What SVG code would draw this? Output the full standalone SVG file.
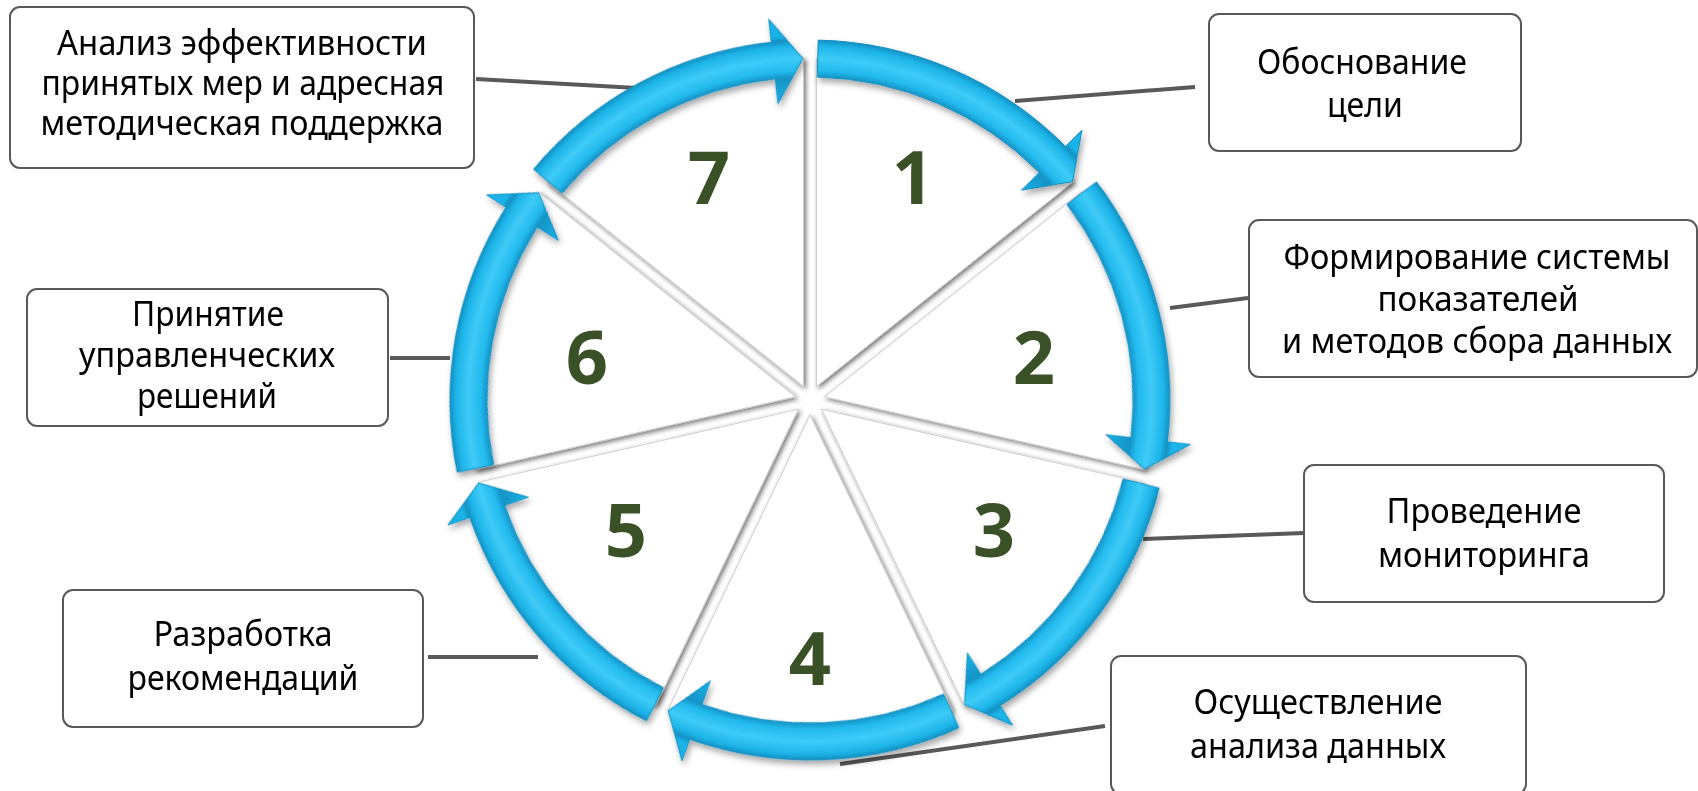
<svg xmlns="http://www.w3.org/2000/svg" xmlns:xlink="http://www.w3.org/1999/xlink" width="1698" height="791" viewBox="0 0 1698 791">
<style>
.box{fill:#fff;stroke:#595959;stroke-width:2}
.lbl{font-family:"Noto Sans","DejaVu Sans",sans-serif;font-size:34px;fill:#000;text-anchor:middle}
.num{font-family:"Noto Sans","DejaVu Sans",sans-serif;font-size:74px;font-weight:bold;fill:#3A5128;text-anchor:middle}
.conn{stroke:#595959;stroke-width:4;fill:none}
.wedge{fill:#fff;stroke:#cfcfcf;stroke-width:1}
.arr{fill:url(#tube);stroke:#138fc2;stroke-width:1}
</style>
<defs>
<radialGradient id="tube" gradientUnits="userSpaceOnUse" cx="0" cy="0" r="384">
<stop offset="0" stop-color="#1ab4e8"/>
<stop offset="0.776" stop-color="#1ab4e8"/>
<stop offset="0.841" stop-color="#1593c6"/>
<stop offset="0.858" stop-color="#22baee"/>
<stop offset="0.89" stop-color="#3fcbf7"/>
<stop offset="0.922" stop-color="#1cb4e8"/>
<stop offset="0.9375" stop-color="#1590c2"/>
<stop offset="0.95" stop-color="#1ab4e8"/>
<stop offset="1" stop-color="#1ab4e8"/>
</radialGradient>
<filter id="ashadow" x="-10%" y="-10%" width="120%" height="120%">
<feDropShadow dx="2" dy="4" stdDeviation="3" flood-color="#000" flood-opacity="0.35"/>
</filter>
<filter id="wshadow" x="-10%" y="-10%" width="120%" height="120%">
<feDropShadow dx="2" dy="2" stdDeviation="2.5" flood-color="#000" flood-opacity="0.55"/>
</filter>
<path id="arrow" d="M 8.17 -359.91 A 360 360 0 0 1 255.58 -253.53 L 271.91 -269.73 L 262.48 -218.46 L 211.56 -209.87 L 229.31 -227.48 A 323 323 0 0 0 7.33 -322.92 Z"/>
<path id="wedge" transform="translate(6.51 -13.51)" d="M 0 0 L 0 -328 A 328 328 0 0 1 256.44 -204.5 Z"/>
</defs>
<rect width="1698" height="791" fill="#fff"/>

<g id="wedges" filter="url(#wshadow)">
<use xlink:href="#wedge" class="wedge" transform="translate(810 400) rotate(0)"/>
<use xlink:href="#wedge" class="wedge" transform="translate(810 400) rotate(51.4286)"/>
<use xlink:href="#wedge" class="wedge" transform="translate(810 400) rotate(102.8571)"/>
<use xlink:href="#wedge" class="wedge" transform="translate(810 400) rotate(154.2857)"/>
<use xlink:href="#wedge" class="wedge" transform="translate(810 400) rotate(205.7143)"/>
<use xlink:href="#wedge" class="wedge" transform="translate(810 400) rotate(257.1429)"/>
<use xlink:href="#wedge" class="wedge" transform="translate(810 400) rotate(308.5714)"/>
</g>

<g id="connectors">
<line class="conn" x1="1015" y1="101" x2="1195" y2="87"/>
<line class="conn" x1="1170" y1="308" x2="1248" y2="298"/>
<line class="conn" x1="1143" y1="539" x2="1304" y2="533"/>
<line class="conn" x1="840" y1="764" x2="1105" y2="726"/>
<line class="conn" x1="428" y1="657" x2="538" y2="657"/>
<line class="conn" x1="390" y1="358" x2="450" y2="358"/>
<line class="conn" x1="476" y1="79" x2="637" y2="88"/>
</g>

<g id="arrows" filter="url(#ashadow)">
<use xlink:href="#arrow" class="arr" transform="translate(810 400) rotate(0)"/>
<use xlink:href="#arrow" class="arr" transform="translate(810 400) rotate(51.4286)"/>
<use xlink:href="#arrow" class="arr" transform="translate(810 400) rotate(102.8571)"/>
<use xlink:href="#arrow" class="arr" transform="translate(810 400) rotate(154.2857)"/>
<use xlink:href="#arrow" class="arr" transform="translate(810 400) rotate(205.7143)"/>
<use xlink:href="#arrow" class="arr" transform="translate(810 400) rotate(257.1429)"/>
<use xlink:href="#arrow" class="arr" transform="translate(810 400) rotate(308.5714)"/>
</g>

<g id="numbers">
<text class="num" x="913" y="204">1</text>
<text class="num" x="1034" y="384">2</text>
<text class="num" x="994" y="557">3</text>
<text class="num" x="810" y="685">4</text>
<text class="num" x="626" y="557">5</text>
<text class="num" x="587" y="384">6</text>
<text class="num" x="709" y="204">7</text>
</g>

<g id="node1">
<rect class="box" x="1209" y="14" width="312" height="137" rx="10"/>
<text class="lbl" x="1362" y="74" textLength="210" lengthAdjust="spacingAndGlyphs">Обоснование</text>
<text class="lbl" x="1365" y="117" textLength="76" lengthAdjust="spacingAndGlyphs">цели</text>
</g>
<g id="node2">
<rect class="box" x="1249" y="220" width="448" height="157" rx="10"/>
<text class="lbl" x="1477" y="269" textLength="387" lengthAdjust="spacingAndGlyphs">Формирование системы</text>
<text class="lbl" x="1478" y="311" textLength="201" lengthAdjust="spacingAndGlyphs">показателей</text>
<text class="lbl" x="1477" y="353" textLength="390" lengthAdjust="spacingAndGlyphs">и методов сбора данных</text>
</g>
<g id="node3">
<rect class="box" x="1304" y="465" width="360" height="137" rx="10"/>
<text class="lbl" x="1484" y="523" textLength="195" lengthAdjust="spacingAndGlyphs">Проведение</text>
<text class="lbl" x="1484" y="567" textLength="212" lengthAdjust="spacingAndGlyphs">мониторинга</text>
</g>
<g id="node4">
<rect class="box" x="1111" y="656" width="415" height="138" rx="10"/>
<text class="lbl" x="1318" y="714" textLength="249" lengthAdjust="spacingAndGlyphs">Осуществление</text>
<text class="lbl" x="1318" y="758" textLength="256" lengthAdjust="spacingAndGlyphs">анализа данных</text>
</g>
<g id="node5">
<rect class="box" x="63" y="590" width="360" height="137" rx="10"/>
<text class="lbl" x="243" y="646" textLength="179" lengthAdjust="spacingAndGlyphs">Разработка</text>
<text class="lbl" x="243" y="690" textLength="231" lengthAdjust="spacingAndGlyphs">рекомендаций</text>
</g>
<g id="node6">
<rect class="box" x="27" y="289" width="361" height="137" rx="10"/>
<text class="lbl" x="208" y="326" textLength="152" lengthAdjust="spacingAndGlyphs">Принятие</text>
<text class="lbl" x="207" y="367" textLength="256" lengthAdjust="spacingAndGlyphs">управленческих</text>
<text class="lbl" x="207" y="408" textLength="140" lengthAdjust="spacingAndGlyphs">решений</text>
</g>
<g id="node7">
<rect class="box" x="10" y="7" width="464" height="161" rx="10"/>
<text class="lbl" x="242" y="55" textLength="370" lengthAdjust="spacingAndGlyphs">Анализ эффективности</text>
<text class="lbl" x="243" y="95" textLength="403" lengthAdjust="spacingAndGlyphs">принятых мер и адресная</text>
<text class="lbl" x="242" y="135" textLength="403" lengthAdjust="spacingAndGlyphs">методическая поддержка</text>
</g>
</svg>
